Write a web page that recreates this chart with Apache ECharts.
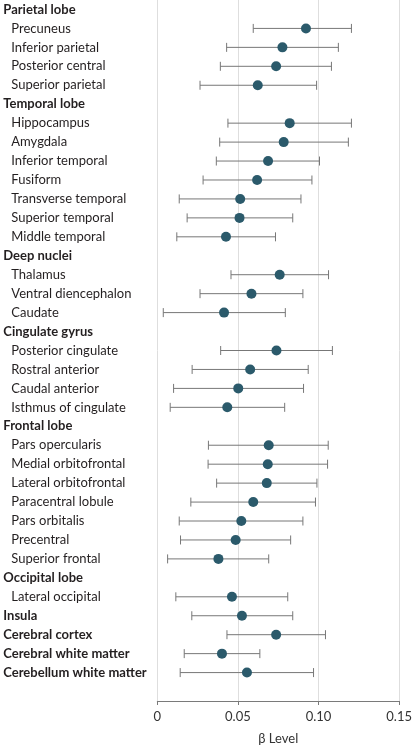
<!DOCTYPE html>
<html>
<head>
<meta charset="utf-8">
<script src="https://cdn.jsdelivr.net/npm/echarts@6/dist/echarts.min.js"></script>
<style>
html,body{margin:0;padding:0;background:#fff;}
#chart{width:415px;height:750px;}
</style>
</head>
<body>
<div id="chart"></div>
<script>
const categories = [
  'Parietal lobe','Precuneus','Inferior parietal','Posterior central','Superior parietal',
  'Temporal lobe','Hippocampus','Amygdala','Inferior temporal','Fusiform','Transverse temporal','Superior temporal','Middle temporal',
  'Deep nuclei','Thalamus','Ventral diencephalon','Caudate',
  'Cingulate gyrus','Posterior cingulate','Rostral anterior','Caudal anterior','Isthmus of cingulate',
  'Frontal lobe','Pars opercularis','Medial orbitofrontal','Lateral orbitofrontal','Paracentral lobule','Pars orbitalis','Precentral','Superior frontal',
  'Occipital lobe','Lateral occipital',
  'Insula','Cerebral cortex','Cerebral white matter','Cerebellum white matter'
];
const isBold = [
  1,0,0,0,0,
  1,0,0,0,0,0,0,0,
  1,0,0,0,
  1,0,0,0,0,
  1,0,0,0,0,0,0,0,
  1,0,
  1,1,1,1
];
const beta = [
  null,0.0922,0.0776,0.0737,0.0623,
  null,0.0821,0.0784,0.0687,0.0619,0.0514,0.0510,0.0426,
  null,0.0759,0.0584,0.0414,
  null,0.0739,0.0576,0.0502,0.0434,
  null,0.0691,0.0685,0.0679,0.0595,0.0521,0.0486,0.0379,
  null,0.0463,
  0.0525,0.0737,0.0401,0.0556
];
const lower = [
  null,0.0595,0.0430,0.0391,0.0265,
  null,0.0438,0.0387,0.0366,0.0284,0.0136,0.0185,0.0121,
  null,0.0457,0.0265,0.0037,
  null,0.0393,0.0216,0.0101,0.0080,
  null,0.0317,0.0315,0.0368,0.0208,0.0136,0.0144,0.0064,
  null,0.0115,
  0.0214,0.0432,0.0167,0.0142
];
const upper = [
  null,0.1204,0.1123,0.1080,0.0988,
  null,0.1204,0.1185,0.1006,0.0959,0.0891,0.0840,0.0733,
  null,0.1062,0.0903,0.0794,
  null,0.1086,0.0936,0.0907,0.0790,
  null,0.1060,0.1056,0.0990,0.0981,0.0903,0.0827,0.0691,
  null,0.0809,
  0.0840,0.1043,0.0636,0.0969
];
const xTicks = [0, 0.05, 0.10, 0.15];
const xTickLabels = ['0', '0.05', '0.10', '0.15'];
const xTitle = 'β Level';

const yCats = categories.concat(['']);
const ciData = [];
const ptData = [];
for (let i = 0; i < categories.length; i++) {
  if (beta[i] != null) {
    ciData.push([i, lower[i], upper[i]]);
    ptData.push([beta[i], i]);
  }
}

const FONT = 'Lato';
const chart = echarts.init(document.getElementById('chart'), null, {renderer: 'canvas'});
chart.setOption({
  animation: false,
  backgroundColor: '#fff',
  grid: {left: 157.3, right: 14.7, top: -1, bottom: 43.3, containLabel: false},
  xAxis: {
    type: 'value', min: xTicks[0], max: xTicks[xTicks.length - 1], interval: 0.05,
    axisLine: {show: true, lineStyle: {color: '#7a7a7a', width: 1}},
    axisTick: {show: true, length: 4, lineStyle: {color: '#7a7a7a'}},
    splitLine: {show: true, lineStyle: {color: '#dedede', width: 1}},
    axisLabel: {
      color: '#333', fontFamily: FONT, fontSize: 13, margin: 9,
      formatter: function (v) {
        for (let k = 0; k < xTicks.length; k++) if (Math.abs(v - xTicks[k]) < 1e-9) return xTickLabels[k];
        return '';
      }
    },
    name: xTitle, nameLocation: 'middle', nameGap: 31,
    nameTextStyle: {color: '#333', fontFamily: FONT, fontSize: 13}
  },
  yAxis: {
    type: 'category', data: yCats, inverse: true,
    axisLine: {show: false}, axisTick: {show: false}, splitLine: {show: false},
    axisLabel: {
      interval: 0, align: 'left', margin: 154,
      formatter: function (v, i) {
        if (!v) return '';
        return isBold[i] ? '{h|' + v + '}' : '{i|' + v + '}';
      },
      rich: {
        h: {fontFamily: FONT, fontSize: 13, fontWeight: 'bold', color: '#231f20'},
        i: {fontFamily: FONT, fontSize: 13, color: '#231f20', padding: [0, 0, 0, 8]}
      }
    }
  },
  series: [
    {
      type: 'custom',
      data: ciData,
      encode: {x: [1, 2], y: 0},
      z: 2,
      renderItem: function (params, api) {
        const idx = api.value(0);
        const a = api.coord([api.value(1), idx]);
        const b = api.coord([api.value(2), idx]);
        const h = 4.5;
        const st = {stroke: '#777', lineWidth: 1};
        return {
          type: 'group',
          children: [
            {type: 'line', shape: {x1: a[0], y1: a[1], x2: b[0], y2: b[1]}, style: st},
            {type: 'line', shape: {x1: a[0], y1: a[1] - h, x2: a[0], y2: a[1] + h}, style: st},
            {type: 'line', shape: {x1: b[0], y1: b[1] - h, x2: b[0], y2: b[1] + h}, style: st}
          ]
        };
      }
    },
    {
      type: 'scatter',
      data: ptData,
      symbol: 'circle',
      symbolSize: 10,
      z: 3,
      itemStyle: {color: '#2b5a6b', opacity: 1}
    }
  ]
});
</script>
</body>
</html>
